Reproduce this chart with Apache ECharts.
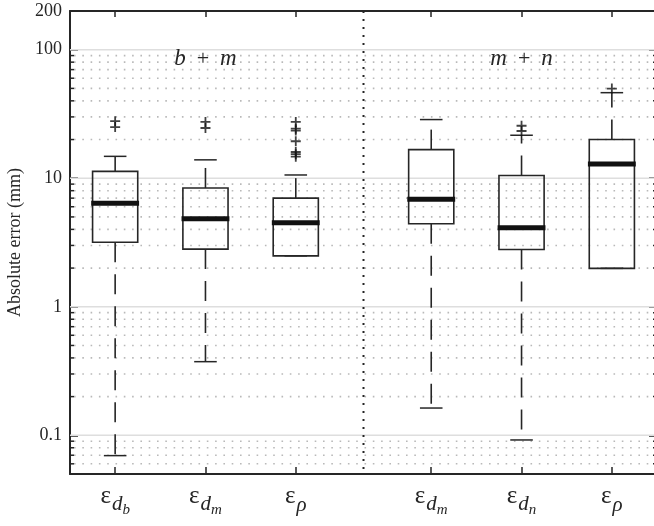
<!DOCTYPE html>
<html><head><meta charset="utf-8">
<script src="https://cdn.jsdelivr.net/npm/echarts@6/dist/echarts.min.js"></script>
<style>html,body{margin:0;padding:0;background:#fff}#c{width:654px;height:526px}</style>
</head><body><div id="c"></div>
<script>
// ---- data ----
const positions = [1, 2, 3, 4.5, 5.5, 6.5];
const subMain = ['d', 'd', 'ρ', 'd', 'd', 'ρ'];
const subSub = ['b', 'm', '', 'm', 'n', ''];
const lowerWhisker = [0.0695, 0.374, 2.49, 0.163, 0.092, 1.99];
const q1 = [3.18, 2.81, 2.49, 4.42, 2.79, 1.99];
const median = [6.4, 4.83, 4.5, 6.87, 4.11, 12.9];
const q3 = [11.3, 8.4, 7.0, 16.7, 10.5, 20.0];
const upperWhisker = [14.8, 13.9, 10.6, 28.6, 21.6, 46.3];
const outliers = [
  [27.8, 25.0],
  [27.4, 24.6],
  [27.4, 24.3, 23.5, 19.4, 16.0, 15.4, 14.7],
  [],
  [25.6, 23.3],
  [49.8]
];
const yTickLabels = [0.1, 1, 10, 100, 200];
const majorGrid = [0.1, 1, 10, 100];
const minorGrid = [0.06, 0.07, 0.08, 0.09, 0.2, 0.3, 0.4, 0.5, 0.6, 0.7, 0.8, 0.9,
  2, 3, 4, 5, 6, 7, 8, 9, 20, 30, 40, 50, 60, 70, 80, 90];
const groupLabels = ['b', 'm', 'm', 'n'];
const groupPos = [2, 5.5];
const groupY = [84, 84];
const separatorPos = [3.75];

// ---- styling ----
const INK = '#262626';
const SERIF = 'Liberation Serif';

const chart = echarts.init(document.getElementById('c'), null, {renderer: 'canvas'});

function xLabel(v) {
  const i = positions.findIndex(p => Math.abs(p - v) < 1e-6);
  if (i < 0) return '';
  let s = '{e|ε}';
  if (subSub[i]) s += '{d|' + subMain[i] + '}{s|' + subSub[i] + '}';
  else s += '{r|' + subMain[i] + '}';
  return s;
}

function renderGrid(params, api) {
  const v = api.value(0), kind = api.value(1);
  const cs = params.coordSys;
  const y = api.coord([1, v])[1];
  const children = [];
  if (kind === 0) {
    children.push({type: 'line', shape: {x1: cs.x, y1: y, x2: cs.x + cs.width, y2: y},
      style: {stroke: '#dedede', lineWidth: 1.6}});
  } else {
    children.push({type: 'line', shape: {x1: cs.x + 4, y1: y, x2: cs.x + cs.width, y2: y},
      style: {stroke: '#b9b9b9', lineWidth: 1.6, lineDash: [1.6, 6.7]}});
    children.push({type: 'line', shape: {x1: cs.x, y1: y, x2: cs.x + 4, y2: y},
      style: {stroke: INK, lineWidth: 1.5}});
    children.push({type: 'line', shape: {x1: cs.x + cs.width - 4, y1: y, x2: cs.x + cs.width, y2: y},
      style: {stroke: INK, lineWidth: 1.5}});
  }
  return {type: 'group', children};
}

function renderSeparator(params, api) {
  const cs = params.coordSys;
  const x = api.coord([api.value(0), 1])[0];
  return {type: 'line', shape: {x1: x, y1: cs.y, x2: x, y2: cs.y + cs.height},
    style: {stroke: INK, lineWidth: 2, lineDash: [2, 6]}};
}

function renderBox(params, api) {
  const x = api.value(0);
  const lw = api.value(1), a = api.value(2), m = api.value(3), b = api.value(4), uw = api.value(5);
  const cx = api.coord([x, m])[0];
  const xl = api.coord([x - 0.25, m])[0], xr = api.coord([x + 0.25, m])[0];
  const cl = api.coord([x - 0.125, m])[0], cr = api.coord([x + 0.125, m])[0];
  const ml = api.coord([x - 0.265, m])[0], mr = api.coord([x + 0.265, m])[0];
  const yLw = api.coord([x, lw])[1], yA = api.coord([x, a])[1], yM = api.coord([x, m])[1];
  const yB = api.coord([x, b])[1], yUw = api.coord([x, uw])[1];
  const st = {stroke: INK, lineWidth: 1.5, fill: null};
  const dash = {stroke: INK, lineWidth: 1.6, lineDash: [20, 12]};
  const ch = [];
  if (uw > b) {
    ch.push({type: 'line', shape: {x1: cx, y1: yB, x2: cx, y2: yUw}, style: dash});
  }
  ch.push({type: 'line', shape: {x1: cl, y1: yUw, x2: cr, y2: yUw}, style: st});
  if (lw < a) {
    ch.push({type: 'line', shape: {x1: cx, y1: yA, x2: cx, y2: yLw}, style: dash});
  }
  ch.push({type: 'line', shape: {x1: cl, y1: yLw, x2: cr, y2: yLw}, style: st});
  ch.push({type: 'rect', shape: {x: xl, y: yB, width: xr - xl, height: yA - yB}, style: {stroke: INK, lineWidth: 1.6, fill: 'none'}});
  ch.push({type: 'line', shape: {x1: ml, y1: yM, x2: mr, y2: yM}, style: {stroke: '#111', lineWidth: 5}});
  return {type: 'group', children: ch};
}

function renderGroupLabel(params, api) {
  const i = params.dataIndex;
  const p = api.coord([api.value(0), api.value(1)]);
  return {type: 'text', x: p[0], y: p[1], style: {
    text: '{i|' + groupLabels[2 * i] + '}{p|\u2002+\u2002}{i|' + groupLabels[2 * i + 1] + '}',
    align: 'center', verticalAlign: 'middle',
    font: '23px "Liberation Serif"', fill: INK,
    rich: {
      i: {font: 'italic 23px "Liberation Serif"', fill: INK},
      p: {font: '22px "Liberation Serif"', fill: INK}
    }
  }};
}

const outlierData = [];
outliers.forEach((arr, i) => arr.forEach(v => outlierData.push([positions[i], v])));

const plusPath = 'path://M0,4.1L10,4.1L10,5.9L0,5.9Z M4.1,0L5.9,0L5.9,10L4.1,10Z';

const axisCommonX = {
  type: 'value', min: 0.5, max: 7,
  axisLine: {show: true, onZero: false, lineStyle: {color: INK, width: 2}},
  splitLine: {show: false}
};

chart.setOption({
  animation: false,
  backgroundColor: '#fff',
  grid: {left: 70, right: -3, top: 11, bottom: 52, containLabel: false, outerBoundsMode: 'none'},
  xAxis: [
    Object.assign({}, axisCommonX, {
      position: 'bottom',
      axisTick: {show: true, inside: true, length: 7, customValues: positions, lineStyle: {color: INK, width: 1.5}},
      axisLabel: {
        show: true, customValues: positions, margin: 10, formatter: xLabel,
        rich: {
          e: {fontFamily: SERIF, fontSize: 25, color: INK, verticalAlign: 'bottom', padding: [0, 1, 9, 0]},
          d: {fontFamily: SERIF, fontSize: 21, fontStyle: 'italic', color: INK, verticalAlign: 'bottom', padding: [0, 0, 3, 0]},
          s: {fontFamily: SERIF, fontSize: 15, fontStyle: 'italic', color: INK, verticalAlign: 'bottom', padding: [0, 0, 0, 0]},
          r: {fontFamily: SERIF, fontSize: 21, fontStyle: 'italic', color: INK, verticalAlign: 'bottom', padding: [0, 0, 2, 0]}
        }
      }
    }),
    Object.assign({}, axisCommonX, {
      position: 'top',
      axisTick: {show: true, inside: true, length: 6, customValues: positions, lineStyle: {color: INK, width: 1.5}},
      axisLabel: {show: false}
    })
  ],
  yAxis: [
    {
      type: 'log', logBase: 10, min: 0.05, max: 200, position: 'left',
      axisLine: {show: true, onZero: false, lineStyle: {color: INK, width: 2}},
      axisTick: {show: true, inside: true, length: 8, lineStyle: {color: INK, width: 1.5}},
      axisLabel: {
        show: true, margin: 8, fontFamily: SERIF, fontSize: 18, color: INK,
        showMinLabel: true, showMaxLabel: true,
        formatter: v => {
          const hit = yTickLabels.find(t => Math.abs(t - v) / t < 1e-6);
          return hit === undefined ? '' : String(hit);
        }
      },
      splitLine: {show: false},
      name: 'Absolute error (mm)', nameLocation: 'middle', nameGap: 37,
      nameTextStyle: {fontFamily: SERIF, fontSize: 18, color: INK}
    },
    {
      type: 'log', logBase: 10, min: 0.05, max: 200, position: 'right',
      axisLine: {show: true, onZero: false, lineStyle: {color: INK, width: 2}},
      axisTick: {show: true, inside: true, length: 8, lineStyle: {color: INK, width: 1.5}},
      axisLabel: {show: false},
      splitLine: {show: false}
    }
  ],
  series: [
    {
      type: 'custom', name: 'grid', z: 1, silent: true,
      encode: {y: 0},
      data: majorGrid.map(v => [v, 0]).concat(minorGrid.map(v => [v, 1])),
      renderItem: renderGrid
    },
    {
      type: 'custom', name: 'sep', z: 2, silent: true,
      encode: {x: 0},
      data: separatorPos.map(v => [v]),
      renderItem: renderSeparator
    },
    {
      type: 'custom', name: 'boxes', z: 3,
      encode: {x: 0, y: [1, 2, 3, 4, 5]},
      data: positions.map((p, i) => [p, lowerWhisker[i], q1[i], median[i], q3[i], upperWhisker[i]]),
      renderItem: renderBox
    },
    {
      type: 'scatter', name: 'outliers', z: 4,
      symbol: plusPath, symbolSize: 10,
      itemStyle: {color: '#111'},
      data: outlierData
    },
    {
      type: 'custom', name: 'groups', z: 5, silent: true,
      encode: {x: 0, y: 1},
      data: groupPos.map((p, i) => [p, groupY[i]]),
      renderItem: renderGroupLabel
    }
  ]
});
</script></body></html>
